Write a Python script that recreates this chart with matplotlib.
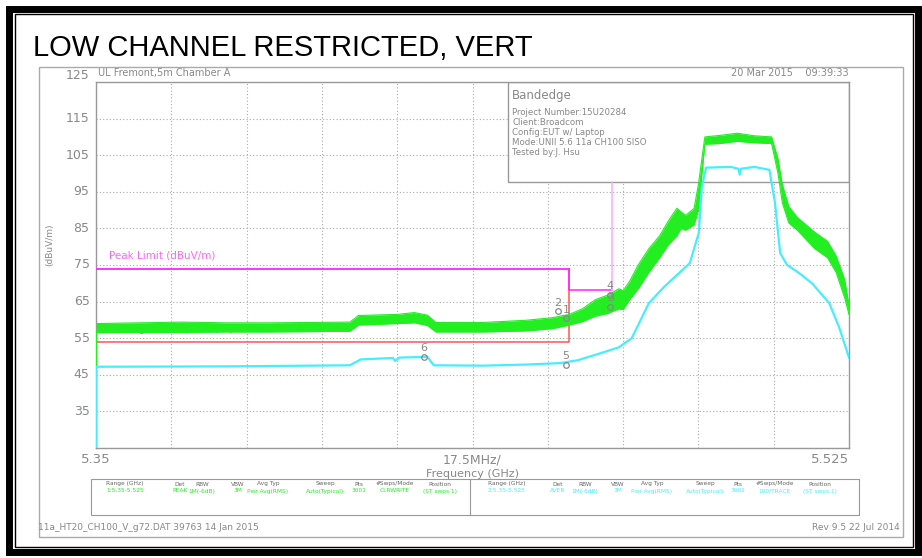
import matplotlib
matplotlib.use("Agg")
from matplotlib import pyplot as plt
from matplotlib.patches import Rectangle
from matplotlib.lines import Line2D

# ---- data ----
# peak trace (green), drawn as a noisy band: lower / upper envelope
green_freq = [5.350, 5.360, 5.370, 5.380, 5.390, 5.400, 5.409, 5.411, 5.420, 5.424,
              5.427, 5.429, 5.440, 5.450, 5.456, 5.460, 5.463, 5.466, 5.469, 5.4715,
              5.4725, 5.474, 5.476, 5.4785, 5.481, 5.483, 5.485, 5.486, 5.487, 5.489,
              5.490, 5.4915, 5.4950, 5.4990, 5.5030, 5.5070, 5.5085, 5.5095, 5.511, 5.513,
              5.515, 5.517, 5.520, 5.522, 5.524, 5.525]
green_lo = [56.5, 56.6, 56.6, 56.7, 56.7, 56.8, 56.9, 58.6, 59.0, 59.2,
            58.5, 56.7, 56.7, 57.0, 57.6, 58.6, 59.5, 61.0, 61.8, 63.0,
            62.8, 65.5, 68.5, 73.0, 77.0, 80.5, 83.0, 85.0, 84.5, 86.0,
            90.0, 108.0, 108.2, 108.8, 108.4, 108.2, 100.0, 92.0, 86.5, 84.5,
            82.0, 79.5, 77.0, 73.0, 66.0, 61.5]
green_hi = [59.0, 59.2, 59.4, 59.2, 59.2, 59.3, 59.4, 61.2, 61.5, 62.0,
            61.3, 59.3, 59.3, 59.9, 60.6, 61.5, 63.0, 65.5, 66.8, 68.5,
            68.0, 70.5, 75.0, 79.5, 83.0, 87.0, 90.5, 89.5, 88.5, 90.5,
            97.0, 110.0, 110.4, 111.0, 110.3, 110.0, 104.0, 97.0, 91.0, 88.0,
            86.0, 84.0, 81.5, 77.5, 71.0, 64.0]

# average trace (cyan)
cyan_freq = [5.350, 5.380, 5.400, 5.409, 5.4115, 5.419, 5.4195, 5.4205, 5.427, 5.4285,
             5.440, 5.450, 5.458, 5.462, 5.467, 5.4715, 5.4745, 5.4785, 5.482, 5.488,
             5.4901, 5.4908, 5.4918, 5.4975, 5.4993, 5.4996, 5.4999, 5.5030, 5.5065, 5.5078,
             5.5090, 5.5106, 5.5134, 5.5164, 5.5204, 5.5227, 5.5250]
cyan_val = [47.2, 47.3, 47.5, 47.6, 49.2, 49.6, 48.8, 49.7, 49.9, 47.6,
            47.5, 47.8, 48.2, 49.0, 50.8, 52.5, 55.0, 64.6, 69.0, 75.5,
            83.8, 96.4, 101.6, 101.8, 101.3, 99.7, 101.3, 101.8, 101.0, 92.0,
            78.3, 75.0, 72.8, 70.0, 64.6, 58.0, 49.7]

# limit lines (dBuV/m) and band edges (GHz)
peak_limit = 74.0
avg_limit = 54.0
edge_limit = 68.2
band_edge = [5.46, 5.47]

# markers
mk_num = ["1", "2", "3", "4", "5", "6"]
mk_freq = [5.4592, 5.4574, 5.4695, 5.4695, 5.4592, 5.4262]
mk_val = [60.4, 62.3, 63.6, 66.9, 47.8, 50.0]

info_lines = ["Project Number:15U20284", "Client:Broadcom", "Config:EUT w/ Laptop",
              "Mode:UNII 5.6 11a CH100 SISO", "Tested by:J. Hsu"]

tbl_head = ["Range (GHz)", "Det", "RBW", "VBW", "Avg Typ", "Sweep", "Pts", "#Swps/Mode", "Position"]
tbl_peak = ["1:5.35-5.525", "PEAK", "1M(-6dB)", "3M", "Pwr Avg(RMS)", "Auto(Typical)", "3001", "CLRWRITE", "(ST swps 1)"]
tbl_avg = ["2:5.35-5.525", "AVER", "1M(-6dB)", "3M", "Pwr Avg(RMS)", "Auto(Typical)", "3001", "100/TRACE", "(ST swps 1)"]
tbl_x1 = [125, 180, 202, 238, 268, 325, 359, 395, 440]
tbl_x2 = [507, 558, 585, 618, 652, 705, 738, 775, 820]

W, H = 922, 558
GREEN = "#22ee22"
CYAN = "#44eeff"
GRAY = "#888888"

def fx(x):
    return x / W

def fy(y):
    return 1 - y / H

fig = plt.figure(figsize=(W / 100, H / 100), dpi=100)
fig.patch.set_facecolor("white")

# black double border
fig.add_artist(Rectangle((fx(9), fy(552)), fx(909), 543 / H, fill=False, ec="black", lw=5))
fig.add_artist(Rectangle((fx(15), fy(547)), fx(898), 533 / H, fill=False, ec="black", lw=1))

fig.text(fx(33), fy(48), "LOW CHANNEL RESTRICTED, VERT", fontsize=21,
         family="Liberation Sans", va="center", ha="left")

# plotter frame
fig.add_artist(Rectangle((fx(39), fy(537)), fx(864), 470 / H, fill=False, ec="#aaaaaa", lw=1))

ax = fig.add_axes([fx(96), fy(448), fx(753), 366 / H])
ax.set_xlim(5.35, 5.525)
ax.set_ylim(25, 125)
for s in ax.spines.values():
    s.set_color("#999999")
    s.set_linewidth(1)
ax.set_xticks([5.35 + 0.0175 * i for i in range(11)])
ax.set_yticks(range(25, 126, 10))
ax.tick_params(length=0, labelbottom=False, labelleft=False)
ax.grid(True, color="#aaaaaa", ls=(0, (1, 2)), lw=0.8)

for v in range(35, 126, 10):
    ax.text(5.3485, v, str(v), ha="right", va="bottom" if v == 125 else "center",
            fontsize=9, color=GRAY)
ax.text(5.35, 23.5, "5.35", ha="center", va="top", fontsize=9.5, color=GRAY)
ax.text(5.525, 23.5, "5.525", ha="right", va="top", fontsize=9.5, color=GRAY)
ax.text(5.4375, 23.5, "17.5MHz/", ha="center", va="top", fontsize=9, color=GRAY)
ax.text(5.4375, 19.2, "Frequency (GHz)", ha="center", va="top", fontsize=8, color=GRAY)
fig.text(fx(50), fy(245), "(dBuV/m)", rotation=90, ha="center", va="center", fontsize=6.5, color=GRAY)
ax.text(5.3505, 126.2, "UL Fremont,5m Chamber A", ha="left", va="bottom", fontsize=7, color=GRAY)
ax.text(5.525, 126.2, "20 Mar 2015    09:39:33", ha="right", va="bottom", fontsize=7, color=GRAY)

# info box
ax.add_patch(Rectangle((5.4457, 97.7), 5.525 - 5.4457, 125 - 97.7, fc="white",
                       ec="#999999", lw=1, zorder=2))
ax.text(5.4467, 121.4, "Bandedge", fontsize=8.5, color=GRAY, va="center", zorder=3)
for i, line in enumerate(info_lines):
    ax.text(5.4467, 116.7 - i * 2.75, line, fontsize=6.2, color=GRAY, va="center", zorder=3)

# limits
ax.plot([5.35, band_edge[0]], [peak_limit, peak_limit], color="#ff22ff", lw=1.3, zorder=4)
ax.plot([5.35, band_edge[0], band_edge[0]], [avg_limit, avg_limit, peak_limit], color="#ff5555", lw=1.1, zorder=4)
ax.plot([band_edge[0], band_edge[0], band_edge[1]], [peak_limit, edge_limit, edge_limit], color="#ff22ff", lw=1.1, zorder=4)
ax.plot([band_edge[1], band_edge[1]], [edge_limit, 97.7], color="#ffaaff", lw=1.1, zorder=4)
ax.text(5.3531, 77.6, "Peak Limit (dBuV/m)", color="#ff66ff", fontsize=7.5, va="center", zorder=4)
ax.text(5.3531, 57.6, "Average Limit (dBuV/m)", color="#ff5555", fontsize=7.5, va="center", zorder=4)

# traces
ax.vlines(5.35, 25, green_lo[0], color=GREEN, lw=1, zorder=5)
ax.fill_between(green_freq, green_lo, green_hi, color=GREEN, lw=0, zorder=5)
ax.plot(green_freq, green_lo, color=GREEN, lw=0.8, zorder=5)
ax.plot(green_freq, green_hi, color=GREEN, lw=0.8, zorder=5)
ax.vlines(5.35, 25, cyan_val[0], color=CYAN, lw=1, zorder=6)
ax.plot(cyan_freq, cyan_val, color=CYAN, lw=1.6, zorder=6)

# markers
ax.plot(mk_freq, mk_val, "o", ms=4, mfc="none", mec=GRAY, mew=0.9, zorder=7)
for n, f, v in zip(mk_num, mk_freq, mk_val):
    ax.text(f, v + 1.0, n, ha="center", va="bottom", fontsize=8, color=GRAY, zorder=7)

# settings table
fig.add_artist(Rectangle((fx(91), fy(515)), fx(768), 36 / H, fill=False, ec="#999999", lw=0.8))
fig.add_artist(Line2D([fx(470), fx(470)], [fy(479), fy(515)], color="#999999", lw=0.8))
for x1, x2, hd, p, a in zip(tbl_x1, tbl_x2, tbl_head, tbl_peak, tbl_avg):
    fig.text(fx(x1), fy(484), hd, ha="center", va="center", fontsize=4.2, color="#666666")
    fig.text(fx(x2), fy(484), hd, ha="center", va="center", fontsize=4.2, color="#666666")
    fig.text(fx(x1), fy(491), p, ha="center", va="center", fontsize=4.2, color=GREEN)
    fig.text(fx(x2), fy(491), a, ha="center", va="center", fontsize=4.2, color=CYAN)

fig.text(fx(38), fy(528), "11a_HT20_CH100_V_g72.DAT 39763 14 Jan 2015", fontsize=6.5, color=GRAY, va="center")
fig.text(fx(900), fy(528), "Rev 9.5 22 Jul 2014", fontsize=6.5, color=GRAY, va="center", ha="right")

fig.savefig("out.png", dpi=100)
